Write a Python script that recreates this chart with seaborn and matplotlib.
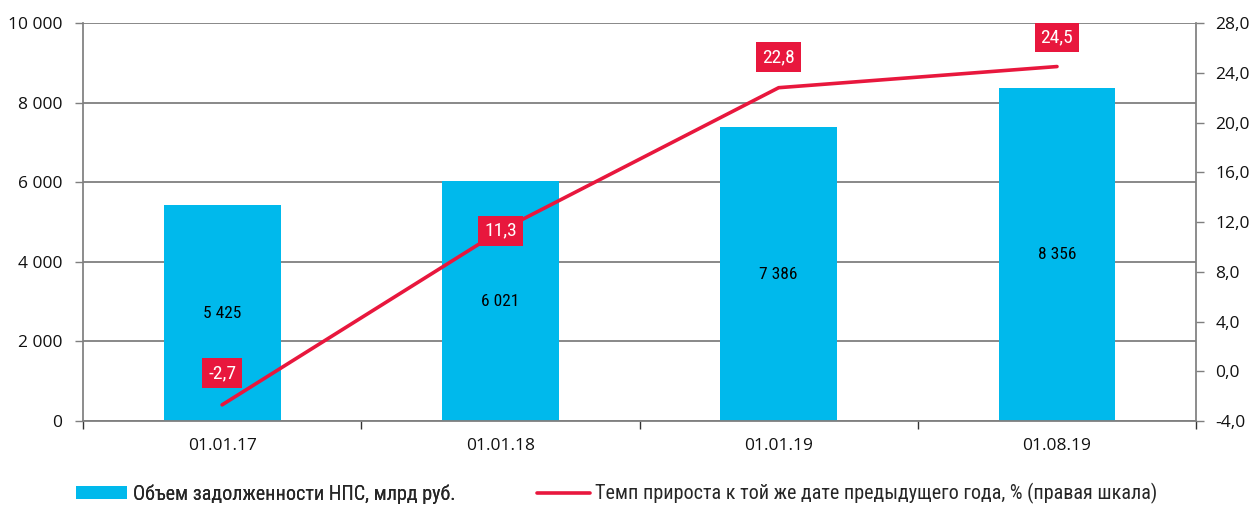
import numpy as np
import pandas as pd
import matplotlib
matplotlib.use("Agg")
import matplotlib.pyplot as plt
import seaborn as sns
from matplotlib.patches import Patch
from matplotlib.lines import Line2D

dates = ["01.01.17", "01.01.18", "01.01.19", "01.08.19"]
debt = [5425, 6021, 7386, 8356]          # млрд руб.
growth = [-2.7, 11.3, 22.8, 24.5]        # %, правая шкала
left_ticks = [0, 2000, 4000, 6000, 8000, 10000]
right_ticks = [-4, 0, 4, 8, 12, 16, 20, 24, 28]

BLUE = "#00B9EC"
RED = "#E8173D"
GRID = "#7F7F7F"
NARROW = ["Roboto Condensed", "Open Sans Condensed", "Liberation Sans Narrow", "Roboto", "DejaVu Sans"]

sns.set_theme(style="white")
plt.rcParams["font.family"] = ["Open Sans", "DejaVu Sans"]

df = pd.DataFrame({"date": dates, "debt": debt, "growth": growth})

fig = plt.figure(figsize=(12.55, 5.07), dpi=100)
ax = fig.add_axes([0.0661, 0.1696, 0.887, 0.785])

sns.barplot(data=df, x="date", y="debt", order=dates, color=BLUE,
            width=0.42, saturation=1, linewidth=0, edgecolor="none", ax=ax, zorder=2)
ax.set_ylim(0, 10000)
ax.set_xlim(-0.5, len(dates) - 0.5)
ax.set_yticks(left_ticks)
ax.set_yticklabels([f"{v:,}".replace(",", " ") for v in left_ticks], fontsize=12.5)
ax.yaxis.grid(True, color=GRID, linewidth=1.3, zorder=0)
ax.set_axisbelow(True)
ax.set_xlabel("")
ax.set_ylabel("")
ax.tick_params(axis="x", length=0, labelsize=12.5, pad=12, labelcolor="#111111")
ax.tick_params(axis="y", left=True, length=6, width=1, color=GRID, pad=9, labelcolor="#111111")
# tick marks between categories on the x axis
ax.set_xticks(np.arange(len(dates) + 1) - 0.5, minor=True)
ax.tick_params(axis="x", which="minor", bottom=True, length=6, width=1, color="#333333")
for side in ["top", "right"]:
    ax.spines[side].set_visible(False)
ax.spines["left"].set_color(GRID)
ax.spines["bottom"].set_color(GRID)
ax.spines["bottom"].set_linewidth(1.3)

for i, v in enumerate(debt):
    ax.text(i, v / 2, f"{v:,}".replace(",", " "), ha="center", va="center",
            fontsize=12.5, color="black", family=NARROW, zorder=3)

ax2 = ax.twinx()
sns.lineplot(x=np.arange(len(dates)), y=growth, color=RED, linewidth=2.6, ax=ax2, zorder=4)
ax2.set_ylim(-4, 28)
ax2.set_yticks(right_ticks)
ax2.set_yticklabels([f"{v:.1f}".replace(".", ",") for v in right_ticks], fontsize=12.5)
ax2.tick_params(axis="y", right=True, length=6, width=1, color=GRID, pad=8, labelcolor="#111111")
for side in ["top", "left", "bottom"]:
    ax2.spines[side].set_visible(False)
ax2.spines["right"].set_color(GRID)
ax2.grid(False)

# label boxes: offset in points above each point
offsets = [23, 0, 22, 21]
for i, (g, off) in enumerate(zip(growth, offsets)):
    ax2.annotate(f"{g:.1f}".replace(".", ","), (i, g), xytext=(0, off),
                 textcoords="offset points", ha="center", va="center",
                 fontsize=14, color="white", family=NARROW,
                 bbox=dict(boxstyle="square,pad=0.3", fc=RED, ec="none"), zorder=5)

leg_prop = {"family": NARROW, "size": 14.5}
leg1 = fig.legend([Patch(facecolor=BLUE, edgecolor="none")],
                  ["Объем задолженности НПС, млрд руб."],
                  loc="center left", bbox_to_anchor=(0.0606, 0.026),
                  frameon=False, borderpad=0, borderaxespad=0,
                  handlelength=2.55, handleheight=0.55, handletextpad=0.3, prop=leg_prop)
fig.legend([Line2D([0], [0], color=RED, linewidth=2.6)],
           ["Темп прироста к той же дате предыдущего года, % (правая шкала)"],
           loc="center left", bbox_to_anchor=(0.428, 0.026),
           frameon=False, borderpad=0, borderaxespad=0,
           handlelength=2.6, handletextpad=0.25, prop=leg_prop)
fig.add_artist(leg1)

fig.savefig("out.png", dpi=100, facecolor="white")
